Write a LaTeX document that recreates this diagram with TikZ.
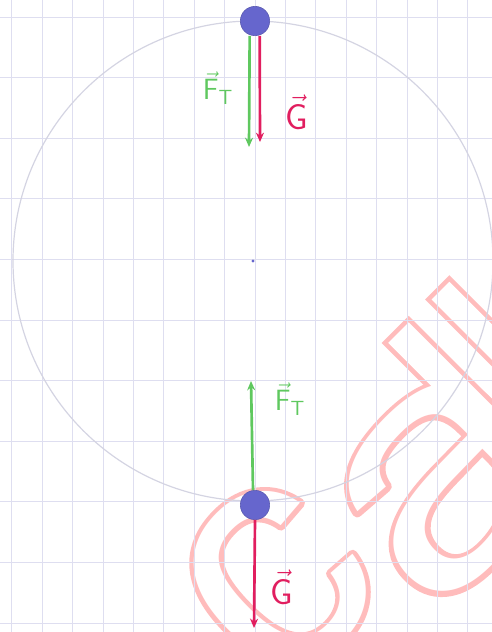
\documentclass[tikz,border=0pt]{standalone}
\usepackage{fontspec}
\newfontfamily\markfont{Liberation Sans}
\usetikzlibrary{arrows.meta}
\definecolor{gridblue}{RGB}{222,222,240}
\definecolor{orbitgray}{RGB}{212,212,226}
\definecolor{ballblue}{RGB}{102,102,205}
\definecolor{forcegreen}{RGB}{95,200,95}
\definecolor{forcered}{RGB}{225,30,95}
\definecolor{markred}{RGB}{255,188,188}
% outlined letters of the watermark
\newcommand\markoutline[1]{\special{pdf:literal direct q 1 Tr 7 w 1 j}#1\special{pdf:literal direct Q}}
\begin{document}
\begin{tikzpicture}[x=0.75pt, y=-0.75pt,
        ball/.style={circle, fill=ballblue, draw=ballblue!85!black, minimum size=22pt, inner sep=0pt},
        force/.style={line width=2pt, -{Stealth[length=7pt, width=6pt]}},
        flabel/.style={font=\fontsize{22}{22}\selectfont, inner sep=1pt},
        glabel/.style={font=\fontsize{27}{27}\selectfont, inner sep=1pt},
        markglyph/.style={inner sep=0pt, anchor=base, text=markred, font=\markfont\fontsize{246}{246}\selectfont},
    ]
    \useasboundingbox (0,0) rectangle (492,632);
    % watermark
    \begin{scope}
        \clip (0,0) rectangle (492,632);
        \begin{scope}[rotate=45, x=0.75pt, y=0.75pt, transform shape]
            \node[markglyph](markC) at (-216,-693) {\markoutline{c}};
            \node[markglyph, xscale=1.25](markA) at (-22,-745) {\markoutline{a}};
            \draw[markred, line width=7bp] (32,-517) rectangle (61,-820) (93.5,-517) rectangle (118.5,-820);
            \node[markglyph, text=white](markCfill) at (-216,-693) {c};
            \node[markglyph, text=white, xscale=1.25](markAfill) at (-22,-745) {a};
            \fill[white] (32,-517) rectangle (61,-820) (93.5,-517) rectangle (118.5,-820);
        \end{scope}
    \end{scope}
    % squared paper
    \foreach \i in {0,...,15}
        \draw[gridblue, line width=0.5pt] ({11.7+30.4*\i},0) -- ({11.7+30.4*\i},632);
    \foreach \j in {0,...,10}
        \draw[gridblue, line width=0.5pt] (0,{17+60.6*\j}) -- (492,{17+60.6*\j});
    % orbit
    \node[circle, fill=ballblue, inner sep=0pt, minimum size=2.5pt](center) at (253,261) {};
    \draw[orbitgray, line width=0.9pt] (center) circle[radius=240];
    % balls
    \node[ball](top) at (255,21) {};
    \node[ball](bot) at (255,505) {};
    \coordinate (ftTopEnd) at (249,147);
    \coordinate (gTopEnd) at (260,142);
    \coordinate (ftBotEnd) at (251,381);
    \coordinate (gBotEnd) at (254,628);
    \draw[force, forcegreen] ([xshift=-4pt]top.south) -- (ftTopEnd);
    \draw[force, forcered] ([xshift=3.5pt]top.south) -- (gTopEnd);
    \draw[force, forcegreen] ([xshift=-1.5pt]bot.north) -- (ftBotEnd);
    \draw[force, forcered] (bot.south) -- (gBotEnd);
    % labels
    \node[flabel, text=forcegreen](ftTop) at (218,88) {$\vec{\mathsf{F}}_{\mathsf{T}}$};
    \node[glabel, text=forcered](gTop) at (297,112) {$\vec{\mathsf{G}}$};
    \node[flabel, text=forcegreen](ftBot) at (290,399) {$\vec{\mathsf{F}}_{\mathsf{T}}$};
    \node[glabel, text=forcered](gBot) at (282,587) {$\vec{\mathsf{G}}$};
\end{tikzpicture}
\end{document}
